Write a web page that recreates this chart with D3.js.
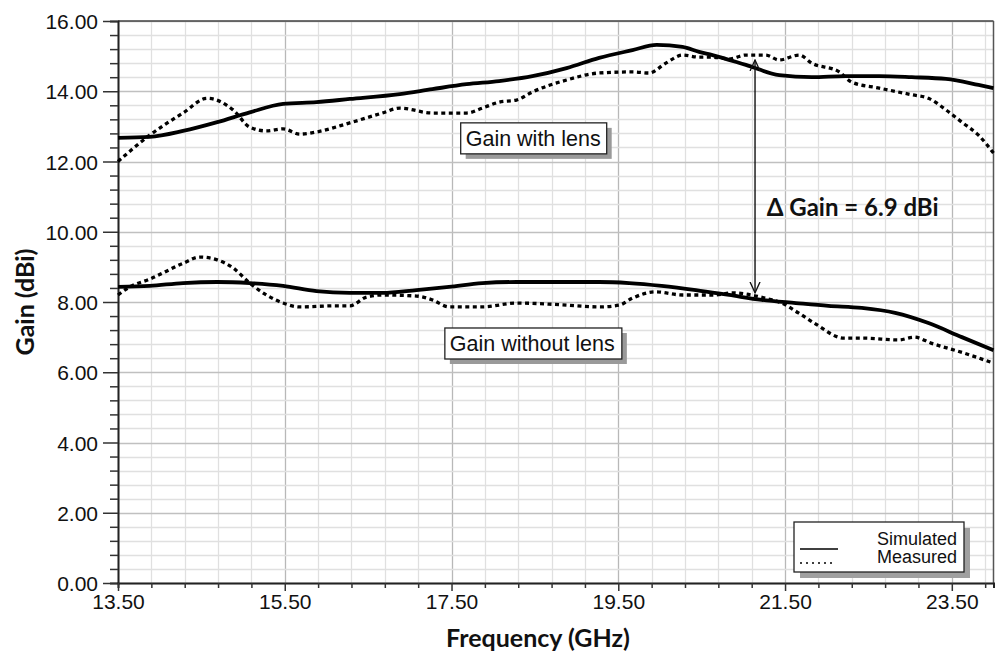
<!DOCTYPE html>
<html>
<head>
<meta charset="utf-8">
<script src="https://cdn.jsdelivr.net/npm/d3@7"></script>
<style>
  body { margin: 0; background: #fff; }
  svg text { font-family: "Liberation Sans", Arial, sans-serif; fill: #111; }
  .title { font-family: Lato, "Open Sans", sans-serif !important; font-weight: 700; }
</style>
</head>
<body>
<div id="chart"></div>
<script>
// data (frequency in GHz, gain in dBi)
const simLensF = [13.5, 13.88, 14.28, 14.69, 15.08, 15.48, 15.88, 16.28, 16.88, 17.27, 17.68, 18.07, 18.47, 18.88, 19.27, 19.67, 19.96, 20.27, 20.47, 20.63, 21.03, 21.43, 21.82, 22.23, 22.63, 23.02, 23.43, 23.82, 24.0];
const simLensG = [12.67, 12.70, 12.87, 13.12, 13.40, 13.64, 13.69, 13.78, 13.92, 14.06, 14.20, 14.29, 14.43, 14.66, 14.95, 15.17, 15.32, 15.26, 15.12, 15.03, 14.75, 14.46, 14.40, 14.43, 14.43, 14.40, 14.35, 14.18, 14.09];

const measLensF = [13.5, 13.88, 14.28, 14.57, 14.88, 15.08, 15.28, 15.48, 15.68, 15.88, 16.28, 16.67, 16.88, 17.27, 17.68, 17.87, 18.07, 18.28, 18.47, 18.88, 19.27, 19.67, 19.87, 20.07, 20.27, 20.47, 20.63, 20.83, 21.03, 21.27, 21.43, 21.67, 21.82, 22.15, 22.30, 22.63, 23.02, 23.22, 23.43, 23.62, 23.82, 24.0];
const measLensG = [12.0, 12.75, 13.38, 13.80, 13.47, 12.98, 12.87, 12.93, 12.78, 12.84, 13.10, 13.38, 13.52, 13.38, 13.38, 13.52, 13.69, 13.75, 13.98, 14.32, 14.52, 14.55, 14.52, 14.80, 15.03, 14.97, 14.97, 14.92, 15.03, 15.03, 14.89, 15.03, 14.80, 14.55, 14.26, 14.09, 13.90, 13.80, 13.47, 13.12, 12.75, 12.24];

const simNoLensF = [13.5, 13.88, 14.28, 14.69, 15.08, 15.48, 15.88, 16.28, 16.67, 17.08, 17.47, 17.87, 18.28, 18.67, 19.27, 19.63, 20.02, 20.43, 20.83, 21.22, 21.63, 22.02, 22.42, 22.82, 23.22, 23.62, 24.0];
const simNoLensG = [8.43, 8.46, 8.54, 8.57, 8.54, 8.46, 8.31, 8.26, 8.26, 8.34, 8.43, 8.54, 8.57, 8.57, 8.57, 8.54, 8.46, 8.34, 8.20, 8.06, 7.97, 7.89, 7.83, 7.69, 7.40, 7.00, 6.63];

const measNoLensF = [13.5, 13.64, 13.88, 14.28, 14.48, 14.69, 14.88, 15.08, 15.28, 15.48, 15.68, 16.08, 16.28, 16.48, 16.67, 17.08, 17.27, 17.47, 17.87, 18.28, 18.67, 18.88, 19.28, 19.51, 19.67, 19.94, 20.27, 20.66, 20.86, 21.26, 21.46, 21.66, 21.85, 22.21, 22.45, 22.86, 23.05, 23.25, 23.64, 24.0];
const measNoLensG = [8.20, 8.43, 8.65, 9.10, 9.28, 9.20, 8.97, 8.54, 8.20, 7.97, 7.86, 7.89, 7.89, 8.14, 8.20, 8.17, 8.06, 7.86, 7.86, 7.97, 7.94, 7.91, 7.86, 7.91, 8.11, 8.29, 8.20, 8.20, 8.26, 8.11, 7.97, 7.69, 7.40, 6.97, 6.97, 6.92, 7.00, 6.83, 6.55, 6.26];

const xTickValues = [13.5, 15.5, 17.5, 19.5, 21.5, 23.5];
const yTickValues = [0, 2, 4, 6, 8, 10, 12, 14, 16];
const legendLabels = ["Simulated", "Measured"];

const width = 1001, height = 653;
const margin = { top: 21, right: 7, bottom: 70, left: 118 };

const svg = d3.select("#chart").append("svg")
  .attr("width", width)
  .attr("height", height);

const xScale = d3.scaleLinear()
  .domain([13.5, 24.0])
  .range([margin.left, width - margin.right - 0.5]);

const yScale = d3.scaleLinear()
  .domain([0, 16])
  .range([height - margin.bottom, margin.top]);

// grid, minor every 0.4, major every 2
const xMinor = d3.range(13.5, 24.0, 0.4).map(d => +d.toFixed(2));
const yMinor = d3.range(0, 16.01, 0.4).map(d => +d.toFixed(2));
const isMajorX = d => xTickValues.some(t => Math.abs(t - d) < 1e-6);

const grid = svg.append("g");
grid.selectAll(".vx")
  .data(xMinor)
  .join("line")
  .attr("x1", d => Math.round(xScale(d)) + 0.5)
  .attr("x2", d => Math.round(xScale(d)) + 0.5)
  .attr("y1", yScale(16))
  .attr("y2", yScale(0))
  .attr("stroke", d => isMajorX(d) ? "#b8b8b8" : "#e0e0e0")
  .attr("stroke-width", 1.3);

grid.selectAll(".hy")
  .data(yMinor)
  .join("line")
  .attr("x1", xScale(13.5))
  .attr("x2", xScale(24))
  .attr("y1", d => Math.round(yScale(d)) + 0.5)
  .attr("y2", d => Math.round(yScale(d)) + 0.5)
  .attr("stroke", d => yTickValues.includes(d) ? "#c0c0c0" : "#e0e0e0")
  .attr("stroke-width", 1.3);

// frame top / right
svg.append("line")
  .attr("x1", xScale(13.5)).attr("x2", xScale(24))
  .attr("y1", yScale(16)).attr("y2", yScale(16))
  .attr("stroke", "#444").attr("stroke-width", 1.5);
svg.append("line")
  .attr("x1", xScale(24)).attr("x2", xScale(24))
  .attr("y1", yScale(16)).attr("y2", yScale(0))
  .attr("stroke", "#555").attr("stroke-width", 1.5);

// axes
const yAxis = d3.axisLeft(yScale)
  .tickValues(yMinor)
  .tickSize(8)
  .tickFormat(d => yTickValues.includes(d) ? d3.format(".2f")(d) : "");
const yAxisGroup = svg.append("g")
  .attr("transform", `translate(${margin.left}, 0)`)
  .call(yAxis);
yAxisGroup.select(".domain").attr("stroke", "#222").attr("stroke-width", 2);
yAxisGroup.selectAll(".tick line")
  .attr("stroke", "#333")
  .attr("stroke-width", 1.5)
  .attr("x2", d => yTickValues.includes(d) ? -15 : -8);
yAxisGroup.selectAll(".tick text")
  .attr("x", -20)
  .attr("dy", "0.36em")
  .attr("font-size", 21)
  .attr("fill", "#111");

const xAxis = d3.axisBottom(xScale)
  .tickValues(xMinor)
  .tickSize(5)
  .tickFormat(d => isMajorX(d) ? d3.format(".2f")(d) : "");
const xAxisGroup = svg.append("g")
  .attr("transform", `translate(0, ${height - margin.bottom})`)
  .call(xAxis);
xAxisGroup.select(".domain").attr("stroke", "#222").attr("stroke-width", 2);
xAxisGroup.selectAll(".tick line")
  .attr("stroke", "#333")
  .attr("stroke-width", 1.5)
  .attr("y2", d => isMajorX(d) ? 8 : 5);
xAxisGroup.selectAll(".tick text")
  .attr("y", 11)
  .attr("dy", "0.71em")
  .attr("font-size", 21)
  .attr("fill", "#111");

// axis titles
svg.append("text")
  .attr("class", "title")
  .attr("x", 538)
  .attr("y", 647)
  .attr("text-anchor", "middle")
  .attr("font-size", 25)
  .text("Frequency (GHz)");

svg.append("text")
  .attr("class", "title")
  .attr("transform", `translate(34, ${yScale(8)})rotate(-90)`)
  .attr("text-anchor", "middle")
  .attr("font-size", 25)
  .text("Gain (dBi)");

// curves
const series = [
  { f: simLensF, g: simLensG, dash: null },
  { f: measLensF, g: measLensG, dash: "4,3.5" },
  { f: simNoLensF, g: simNoLensG, dash: null },
  { f: measNoLensF, g: measNoLensG, dash: "4,3.5" }
];

const line = d3.line()
  .x(d => xScale(d[0]))
  .y(d => yScale(d[1]))
  .curve(d3.curveMonotoneX);

svg.append("g").selectAll("path")
  .data(series)
  .join("path")
  .attr("d", s => line(s.f.map((f, i) => [f, s.g[i]])))
  .attr("fill", "none")
  .attr("stroke", "#000")
  .attr("stroke-width", d => d.dash ? 3.3 : 3.8)
  .attr("stroke-dasharray", d => d.dash);

// annotation boxes
const notes = [
  { text: "Gain with lens", f: 17.61, g: 13.10, w: 146, h: 31 },
  { text: "Gain without lens", f: 17.42, g: 7.26, w: 177, h: 31 }
];
const noteG = svg.append("g").selectAll("g")
  .data(notes)
  .join("g")
  .attr("transform", d => `translate(${xScale(d.f)}, ${yScale(d.g)})`);
noteG.append("rect")
  .attr("x", 5).attr("y", 5)
  .attr("width", d => d.w).attr("height", d => d.h)
  .attr("fill", "#9a9a9a");
noteG.append("rect")
  .attr("width", d => d.w).attr("height", d => d.h)
  .attr("fill", "#fff")
  .attr("stroke", "#222")
  .attr("stroke-width", 1.3);
noteG.append("text")
  .attr("x", 5)
  .attr("y", 23)
  .attr("font-size", 21.5)
  .text(d => d.text);

// delta gain arrow
const arrowF = 21.14, arrowTop = 14.89, arrowBottom = 8.26;
const defs = svg.append("defs");
defs.append("marker")
  .attr("id", "openArrow")
  .attr("viewBox", "0 0 12 12")
  .attr("refX", 11).attr("refY", 6)
  .attr("markerWidth", 12).attr("markerHeight", 12)
  .attr("markerUnits", "userSpaceOnUse")
  .attr("orient", "auto-start-reverse")
  .append("path")
  .attr("d", "M0,1 L11,6 L0,11")
  .attr("fill", "none")
  .attr("stroke", "#111")
  .attr("stroke-width", 1.3);

svg.append("line")
  .attr("x1", xScale(arrowF)).attr("x2", xScale(arrowF))
  .attr("y1", yScale(arrowTop)).attr("y2", yScale(arrowBottom))
  .attr("stroke", "#111")
  .attr("stroke-width", 1.4)
  .attr("marker-start", "url(#openArrow)")
  .attr("marker-end", "url(#openArrow)");

svg.append("text")
  .attr("class", "title")
  .attr("x", xScale(21.28))
  .attr("y", yScale(10.45))
  .attr("font-size", 24)
  .text("\u0394 Gain = 6.9 dBi");

// legend
const legend = svg.append("g").attr("transform", "translate(794, 522)");
legend.append("rect")
  .attr("x", 6).attr("y", 6).attr("width", 170).attr("height", 50)
  .attr("fill", "#a0a0a0");
legend.append("rect")
  .attr("width", 170).attr("height", 50)
  .attr("fill", "#fff").attr("stroke", "#222").attr("stroke-width", 1.3);
legend.selectAll(".lg")
  .data(legendLabels)
  .join("text")
  .attr("x", 163)
  .attr("y", (d, i) => 23 + i * 18)
  .attr("text-anchor", "end")
  .attr("font-size", 18)
  .text(d => d);
legend.selectAll(".ll")
  .data(legendLabels)
  .join("line")
  .attr("x1", 6).attr("x2", d => d === "Simulated" ? 44 : 40)
  .attr("y1", (d, i) => 27 + i * 14).attr("y2", (d, i) => 27 + i * 14)
  .attr("stroke", "#000")
  .attr("stroke-width", 1.5)
  .attr("stroke-dasharray", d => d === "Simulated" ? null : "2,4");
</script>
</body>
</html>
